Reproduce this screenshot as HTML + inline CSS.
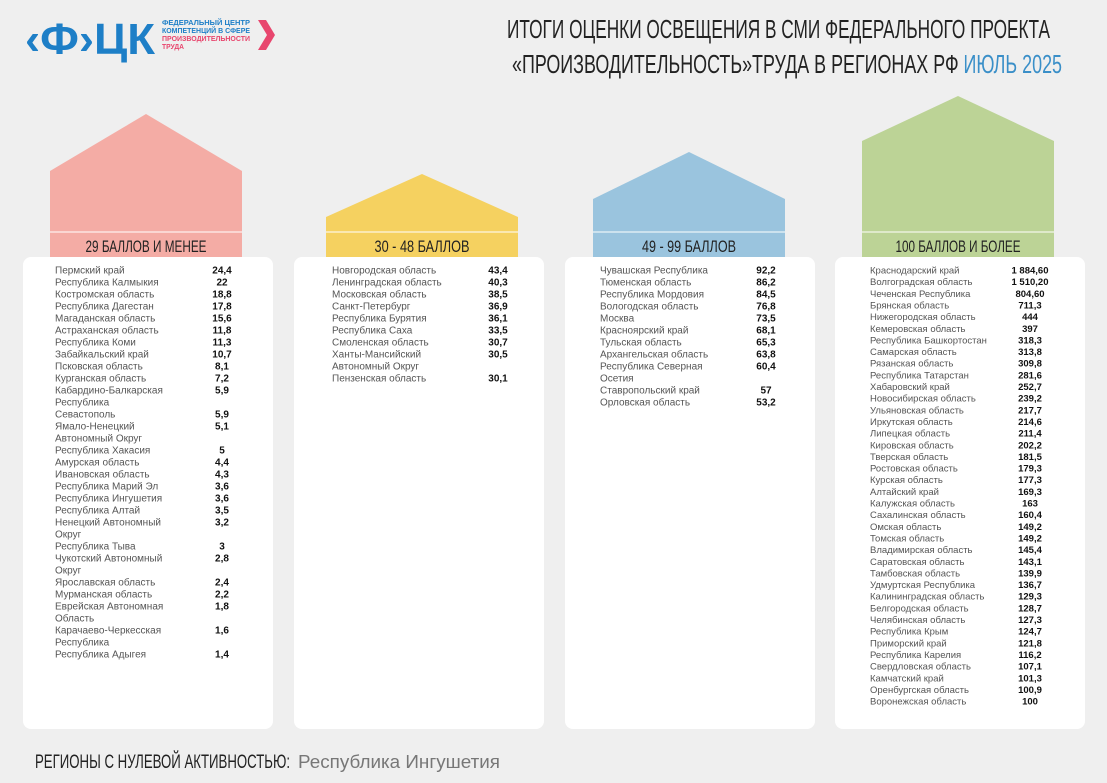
<!DOCTYPE html>
<html><head><meta charset="utf-8">
<style>
html,body{margin:0;padding:0;background:#efefef;}
svg{display:block;font-family:"Liberation Sans","Noto Sans CJK SC",sans-serif;}
</style></head>
<body>
<svg id="s" width="1107" height="783" viewBox="0 0 1107 783" xmlns="http://www.w3.org/2000/svg">
<rect width="1107" height="783" fill="#efefef"/>
<g>
  <text x="25" y="54" font-size="44" font-weight="bold" fill="#1e7fc7" textLength="130" lengthAdjust="spacingAndGlyphs">‹Ф›ЦК</text>
  <text x="162" y="25" font-size="7" font-weight="bold" fill="#1e7fc7" textLength="88" lengthAdjust="spacingAndGlyphs">ФЕДЕРАЛЬНЫЙ ЦЕНТР</text>
  <text x="162" y="33" font-size="7" font-weight="bold" fill="#1e7fc7" textLength="88" lengthAdjust="spacingAndGlyphs">КОМПЕТЕНЦИЙ В СФЕРЕ</text>
  <text x="162" y="41" font-size="7" font-weight="bold" fill="#e8466e" textLength="88" lengthAdjust="spacingAndGlyphs">ПРОИЗВОДИТЕЛЬНОСТИ</text>
  <text x="162" y="49" font-size="7" font-weight="bold" fill="#e8466e" textLength="22" lengthAdjust="spacingAndGlyphs">ТРУДА</text>
  <polygon points="258,20 266,20 275,35 266,50 258,50 267,35" fill="#e8466e"/>
</g>
<g font-size="26" fill="#222">
  <text x="507" y="38" textLength="543" lengthAdjust="spacingAndGlyphs">ИТОГИ ОЦЕНКИ ОСВЕЩЕНИЯ В СМИ ФЕДЕРАЛЬНОГО ПРОЕКТА</text>
  <text x="512" y="73" textLength="550" lengthAdjust="spacingAndGlyphs">«ПРОИЗВОДИТЕЛЬНОСТЬ»ТРУДА  В РЕГИОНАХ РФ <tspan fill="#3a8fc8">ИЮЛЬ 2025</tspan></text>
</g>
<g id="cols"></g>
<g>
  <text x="35" y="768" font-size="19" fill="#222" textLength="255" lengthAdjust="spacingAndGlyphs">РЕГИОНЫ С НУЛЕВОЙ АКТИВНОСТЬЮ:</text>
  <text x="298" y="768" font-size="18" fill="#777" textLength="202" lengthAdjust="spacingAndGlyphs">Республика Ингушетия</text>
</g>
</svg>
<script>
const groupLabels=["29 БАЛЛОВ И МЕНЕЕ","30 - 48 БАЛЛОВ","49 - 99 БАЛЛОВ","100 БАЛЛОВ И БОЛЕЕ"];
const names1=["Пермский край","Республика Калмыкия","Костромская область","Республика Дагестан","Магаданская область","Астраханская область","Республика Коми","Забайкальский край","Псковская область","Курганская область","Кабардино-Балкарская|Республика","Севастополь","Ямало-Ненецкий|Автономный Округ","Республика Хакасия","Амурская область","Ивановская область","Республика Марий Эл","Республика Ингушетия","Республика Алтай","Ненецкий Автономный|Округ","Республика Тыва","Чукотский Автономный|Округ","Ярославская область","Мурманская область","Еврейская Автономная|Область","Карачаево-Черкесская|Республика","Республика Адыгея"];
const values1=["24,4","22","18,8","17,8","15,6","11,8","11,3","10,7","8,1","7,2","5,9","5,9","5,1","5","4,4","4,3","3,6","3,6","3,5","3,2","3","2,8","2,4","2,2","1,8","1,6","1,4"];
const names2=["Новгородская область","Ленинградская область","Московская область","Санкт-Петербург","Республика Бурятия","Республика Саха","Смоленская область","Ханты-Мансийский|Автономный Округ","Пензенская область"];
const values2=["43,4","40,3","38,5","36,9","36,1","33,5","30,7","30,5","30,1"];
const names3=["Чувашская Республика","Тюменская область","Республика Мордовия","Вологодская область","Москва","Красноярский край","Тульская область","Архангельская область","Республика Северная|Осетия","Ставропольский край","Орловская область"];
const values3=["92,2","86,2","84,5","76,8","73,5","68,1","65,3","63,8","60,4","57","53,2"];
const names4=["Краснодарский край","Волгоградская область","Чеченская Республика","Брянская область","Нижегородская область","Кемеровская область","Республика Башкортостан","Самарская область","Рязанская область","Республика Татарстан","Хабаровский край","Новосибирская область","Ульяновская область","Иркутская область","Липецкая область","Кировская область","Тверская область","Ростовская область","Курская область","Алтайский край","Калужская область","Сахалинская область","Омская область","Томская область","Владимирская область","Саратовская область","Тамбовская область","Удмуртская Республика","Калининградская область","Белгородская область","Челябинская область","Республика Крым","Приморский край","Республика Карелия","Свердловская область","Камчатский край","Оренбургская область","Воронежская область"];
const values4=["1 884,60","1 510,20","804,60","711,3","444","397","318,3","313,8","309,8","281,6","252,7","239,2","217,7","214,6","211,4","202,2","181,5","179,3","177,3","169,3","163","160,4","149,2","149,2","145,4","143,1","139,9","136,7","129,3","128,7","127,3","124,7","121,8","116,2","107,1","101,3","100,9","100"];

const NS="http://www.w3.org/2000/svg";
const layout=[
 {hx:50,apex:114,eave:171,color:"#f4aca5",cx:23,nx:55,vx:222,pitch:12,fs:10,lw:121,names:names1,values:values1},
 {hx:326,apex:174,eave:217,color:"#f5d160",cx:294,nx:332,vx:498,pitch:12,fs:10,lw:95,names:names2,values:values2},
 {hx:593,apex:152,eave:199,color:"#9ac4de",cx:565,nx:600,vx:766,pitch:12,fs:10,lw:94,names:names3,values:values3},
 {hx:862,apex:96,eave:141,color:"#bcd396",cx:835,nx:870,vx:1030,pitch:11.65,fs:9.5,lw:125,names:names4,values:values4}
];
const root=document.getElementById('cols');
function mk(t,a,p){const e=document.createElementNS(NS,t);for(const k in a)e.setAttribute(k,a[k]);p.appendChild(e);return e;}
layout.forEach((c,i)=>{
  const g=mk('g',{},root);
  
  
  const w=192;
  const house=mk('polygon',{points:`${c.hx},${c.eave} ${c.hx+w/2},${c.apex} ${c.hx+w},${c.eave} ${c.hx+w},258 ${c.hx},258`,fill:c.color},g);
  
  
  mk('line',{x1:c.hx,x2:c.hx+w,y1:232,y2:232,stroke:'#fff','stroke-width':1},g);
  const lab=mk('text',{x:c.hx+w/2-c.lw/2,y:252,'font-size':17,fill:'#222',textLength:c.lw,lengthAdjust:'spacingAndGlyphs'},g);
  lab.textContent=groupLabels[i];
  
  
  const card=mk('rect',{x:c.cx,y:257,width:250,height:472,rx:8,fill:'#fff'},g);
  
  
  let line=0;
  c.names.forEach((n,j)=>{
    const y=270+line*c.pitch+3.5;
    const parts=n.split('|');
    parts.forEach((p,k)=>{
      const t=mk('text',{x:c.nx,y:y+k*c.pitch,'font-size':c.fs,fill:'#555'},g);
      t.textContent=p;
      
      
    });
    const v=mk('text',{x:c.vx,y:y,'font-size':c.fs,'font-weight':'bold',fill:'#111','text-anchor':'middle'},g);
    v.textContent=c.values[j];
    
    
    line+=parts.length;
  });
});
</script>
</body></html>
